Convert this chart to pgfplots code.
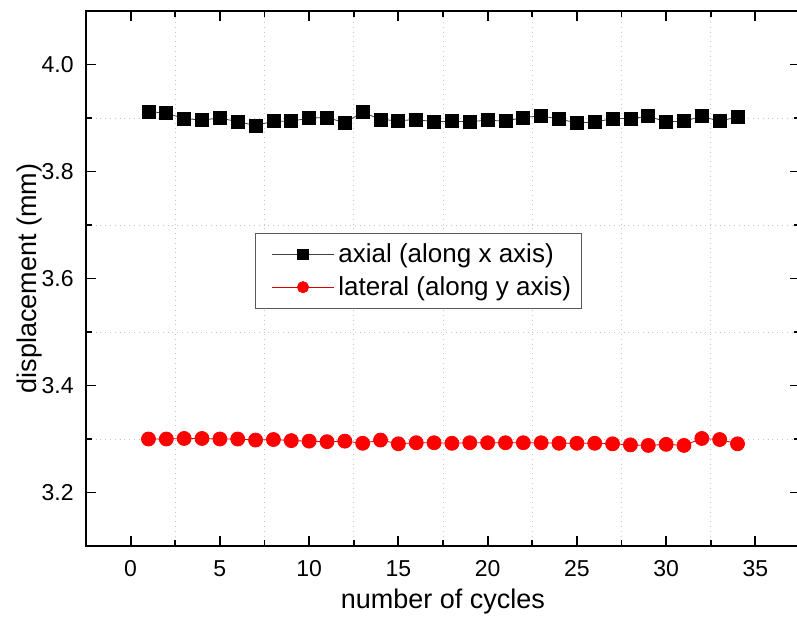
\documentclass[border=0pt]{standalone}
\usepackage{pgfplots}
\pgfplotsset{compat=1.18}
\usepackage{fontspec}
\setmainfont{Liberation Sans}
\begin{document}
\begin{tikzpicture}
\begin{axis}[
  name=ax,
  scale only axis,
  width=357pt, height=267.5pt,
  xmin=-2.5, xmax=37.5,
  ymin=3.1, ymax=4.1,
  xtick={0,5,...,35},
  ytick={3.2,3.4,3.6,3.8,4.0},
  minor xtick={2.5,7.5,...,37.5},
  minor ytick={3.3,3.5,3.7,3.9},
  xminorgrids, yminorgrids,
  minor grid style={gray!45, dotted},
  tick align=inside,
  major tick length=5pt,
  minor tick length=3pt,
  axis line style={line width=1pt},
  every tick/.style={black, line width=0.9pt},
  /pgf/number format/assume math mode=true,
  yticklabel style={/pgf/number format/fixed, /pgf/number format/fixed zerofill, /pgf/number format/precision=1},
  tick label style={font=\fontsize{11.5}{13}\selectfont},
  xticklabel style={anchor=base, yshift=-15pt},
  yticklabel style={anchor=east, inner sep=0pt, xshift=-6pt},
  xlabel={number of cycles},
  ylabel={displacement (mm)},
  every axis x label/.style={at={(rel axis cs:0.5,0)}, anchor=base, yshift=-31pt, font=\fontsize{13.5}{15}\selectfont},
  every axis y label/.style={at={(rel axis cs:0,0.5)}, xshift=-28pt, rotate=90, anchor=center, font=\fontsize{13.5}{15}\selectfont},
  legend style={at={(0.237,0.585)}, anchor=north west, font=\fontsize{13}{15}\selectfont,
    draw=black!65, fill=white, inner xsep=3pt, inner ysep=3pt, row sep=1.5pt},
  legend image code/.code={
    \path (0pt,0pt);
    \draw[mark repeat=2, mark phase=2, #1, every mark/.append style={scale=0.8}] plot coordinates {(5pt,0pt) (20.5pt,0pt) (36pt,0pt)};
  },
  legend cell align=left,
]
\addplot[black!75, thin, mark=square*, mark size=3.25pt, mark options={solid, draw=black, fill=black}]
coordinates {
(1,3.912)(2,3.909)(3,3.899)(4,3.896)(5,3.900)(6,3.893)(7,3.886)(8,3.894)(9,3.894)(10,3.900)
(11,3.901)(12,3.891)(13,3.911)(14,3.897)(15,3.895)(16,3.897)(17,3.893)(18,3.894)(19,3.893)(20,3.896)
(21,3.894)(22,3.901)(23,3.904)(24,3.898)(25,3.891)(26,3.892)(27,3.899)(28,3.899)(29,3.903)(30,3.893)
(31,3.894)(32,3.903)(33,3.894)(34,3.902)
};
\addlegendentry{axial (along x axis)}
\addplot[red!85!black, thin, mark=*, mark size=3.5pt, mark options={solid, draw=red, fill=red}]
coordinates {
(1,3.300)(2,3.300)(3,3.301)(4,3.301)(5,3.300)(6,3.300)(7,3.298)(8,3.299)(9,3.297)(10,3.296)
(11,3.295)(12,3.296)(13,3.292)(14,3.298)(15,3.291)(16,3.293)(17,3.293)(18,3.292)(19,3.293)(20,3.293)
(21,3.293)(22,3.293)(23,3.293)(24,3.292)(25,3.292)(26,3.292)(27,3.291)(28,3.289)(29,3.288)(30,3.290)
(31,3.288)(32,3.301)(33,3.299)(34,3.291)
};
\addlegendentry{lateral (along y axis)}
\end{axis}
\pgfresetboundingbox
\path ([xshift=-43pt, yshift=5.5pt]ax.north west) rectangle ([xshift=355.5pt, yshift=-35pt]ax.south west);
\end{tikzpicture}
\end{document}
